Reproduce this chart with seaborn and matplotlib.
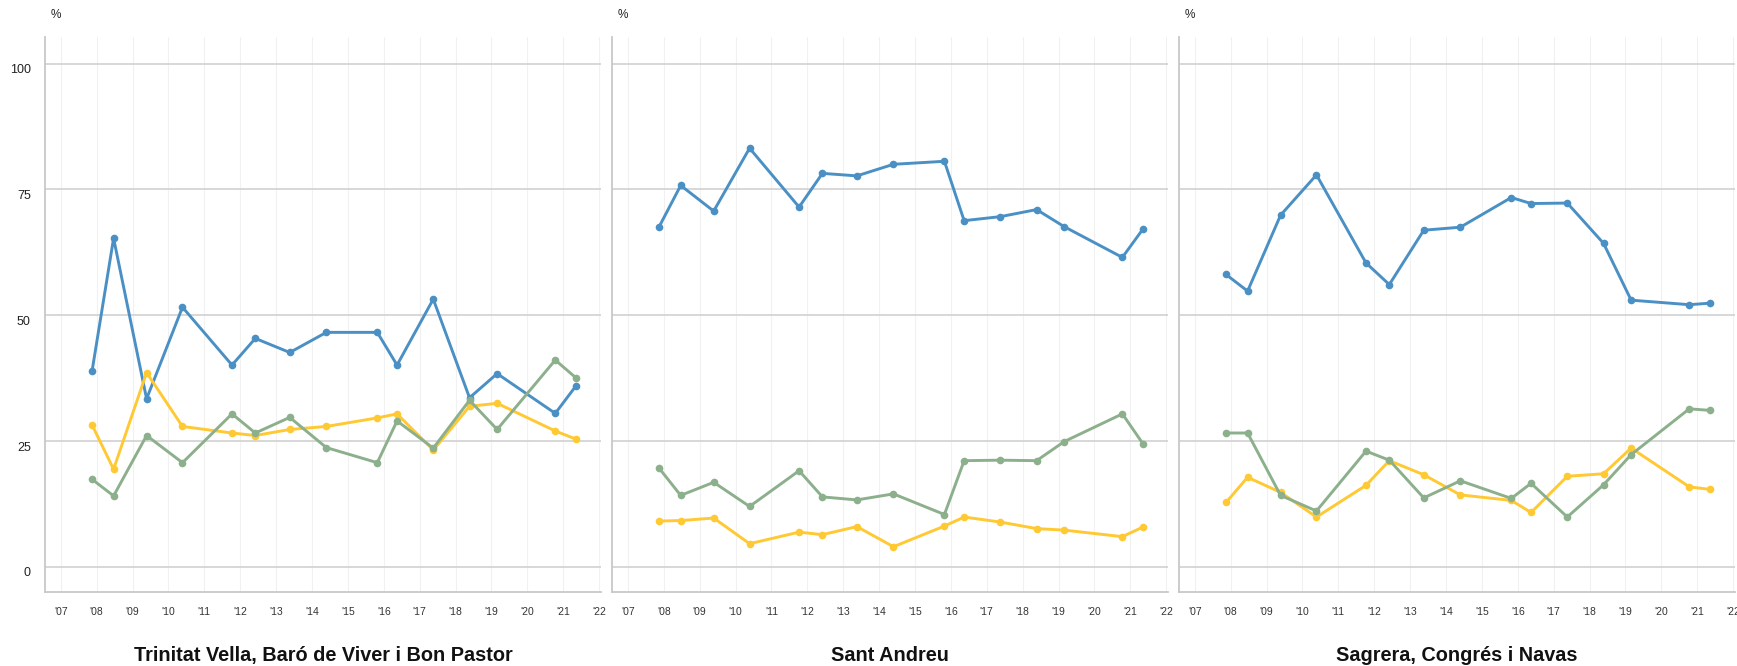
import matplotlib
matplotlib.use("Agg")
import matplotlib.pyplot as plt
import matplotlib.transforms as mtransforms
import pandas as pd
import seaborn as sns

sns.set_theme(style="white")
plt.rcParams['font.family'] = ['Liberation Sans', 'DejaVu Sans']

# dates de les enquestes (any decimal)
dates = [2007.87, 2008.47, 2009.39, 2010.39, 2011.77, 2012.42, 2013.38, 2014.40,
         2015.82, 2016.37, 2017.38, 2018.39, 2019.16, 2020.78, 2021.35]

districts = ["Trinitat Vella, Baró de Viver i Bon Pastor", "Sant Andreu", "Sagrera, Congrés i Navas"]

# sèrie blava
blue_trinitat = [38.9, 65.3, 33.4, 51.6, 40.1, 45.4, 42.6, 46.6, 46.6, 40.1, 53.2, 33.6, 38.4, 30.5, 35.9]
blue_andreu = [67.6, 75.8, 70.7, 83.2, 71.5, 78.2, 77.7, 80.0, 80.6, 68.8, 69.6, 71.0, 67.6, 61.5, 67.1]
blue_sagrera = [58.1, 54.8, 69.9, 77.9, 60.4, 56.1, 66.9, 67.5, 73.4, 72.2, 72.3, 64.3, 53.0, 52.1, 52.4]

# sèrie groga
yellow_trinitat = [28.2, 19.4, 38.6, 27.9, 26.6, 26.1, 27.3, 27.9, 29.6, 30.4, 23.2, 31.9, 32.5, 27.0, 25.4]
yellow_andreu = [9.1, 9.2, 9.7, 4.6, 6.9, 6.4, 8.0, 4.0, 8.1, 9.9, 8.9, 7.6, 7.3, 6.0, 7.9]
yellow_sagrera = [12.8, 17.8, 14.8, 9.9, 16.2, 21.1, 18.3, 14.3, 13.2, 10.8, 18.0, 18.5, 23.6, 15.9, 15.4]

# sèrie verda
green_trinitat = [17.4, 14.1, 26.1, 20.7, 30.4, 26.6, 29.7, 23.7, 20.7, 29.0, 23.6, 33.1, 27.3, 41.1, 37.6]
green_andreu = [19.6, 14.2, 16.8, 12.0, 19.1, 13.9, 13.3, 14.5, 10.4, 21.1, 21.2, 21.1, 24.9, 30.4, 24.5]
green_sagrera = [26.6, 26.6, 14.2, 11.1, 23.0, 21.2, 13.7, 17.1, 13.6, 16.6, 9.9, 16.3, 22.3, 31.4, 31.1]

tick_years = list(range(2007, 2023))
tick_labels = ["'%02d" % (y % 100) for y in tick_years]
y_ticks = [0, 25, 50, 75, 100]

colors = {"blue": "#4a90c4", "yellow": "#ffc933", "green": "#8caf8c"}

panels = [
    {"blue": blue_trinitat, "yellow": yellow_trinitat, "green": green_trinitat},
    {"blue": blue_andreu, "yellow": yellow_andreu, "green": green_andreu},
    {"blue": blue_sagrera, "yellow": yellow_sagrera, "green": green_sagrera},
]

fig = plt.figure(figsize=(17.37, 6.66), dpi=100)
W, H = 1737, 666
lefts = [44.7, 611.8, 1178.7]

for i, (name, series) in enumerate(zip(districts, panels)):
    ax = fig.add_axes([lefts[i] / W, 74 / H, 556.5 / W, 555 / H])

    for key in ["blue", "yellow", "green"]:
        df = pd.DataFrame({"date": dates, "value": series[key]})
        sns.lineplot(data=df, x="date", y="value", ax=ax, color=colors[key],
                     lw=2.1, marker="o", markersize=5.5, markeredgewidth=0,
                     legend=False, zorder=3)

    ax.set_xlim(2006.55, 2022.06)
    ax.set_ylim(-5, 105.3)
    ax.set_xticks(tick_years)
    ax.set_xticklabels(tick_labels, fontsize=7.5, color="#333333")
    ax.set_yticks(y_ticks)
    ax.set_yticklabels([str(v) for v in y_ticks], fontsize=9, color="#222222")

    ax.grid(False)
    ax.yaxis.grid(True, color="#d4d4d4", lw=1.3)
    ax.xaxis.grid(True, color="#f1f1f1", lw=0.8)
    ax.set_axisbelow(True)

    for s in ["top", "right"]:
        ax.spines[s].set_visible(False)
    for s in ["left", "bottom"]:
        ax.spines[s].set_color("#c8c8c8")
        ax.spines[s].set_linewidth(1.3)

    ax.tick_params(axis="both", length=0)
    ax.tick_params(axis="x", pad=10.5)
    ax.tick_params(axis="y", pad=10)
    if i > 0:
        ax.tick_params(axis="y", labelleft=False)
    else:
        offset = mtransforms.ScaledTranslation(0, -5 / 100, fig.dpi_scale_trans)
        for lab in ax.get_yticklabels():
            lab.set_transform(lab.get_transform() + offset)

    ax.set_xlabel(name, fontsize=14.3, fontweight="bold", color="#111111", labelpad=21.5)
    ax.set_ylabel("")
    ax.text(6 / 556.5, 1 + 22 / 555, "%", transform=ax.transAxes, fontsize=8.5,
            color="#222222", ha="left", va="center")

fig.savefig("out.png", dpi=100)
